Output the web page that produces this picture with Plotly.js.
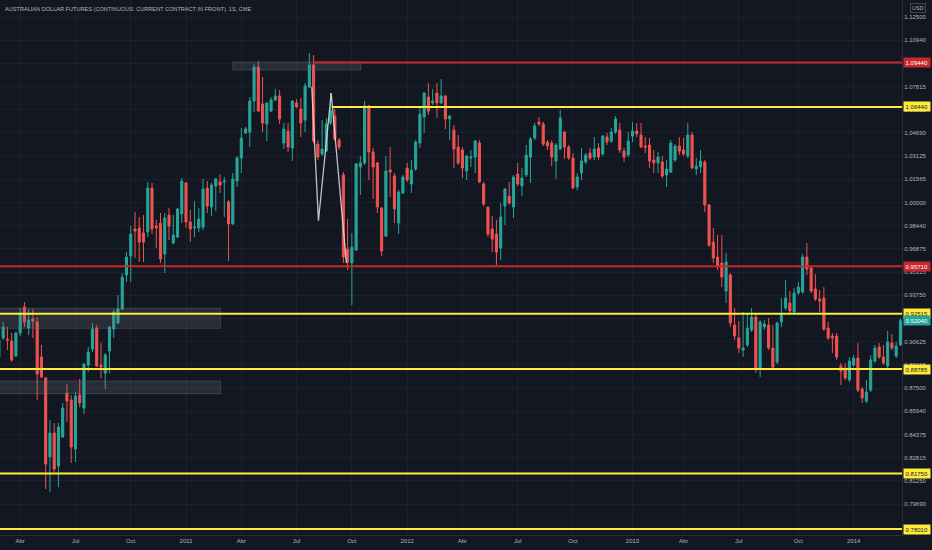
<!DOCTYPE html>
<html>
<head>
<meta charset="utf-8">
<script src="https://cdn.plot.ly/plotly-3.0.1.min.js"></script>
<style>
  html, body { margin:0; padding:0; background:#131722; }
  #chart { width:932px; height:550px; }
</style>
</head>
<body>
<div id="chart"></div>
<script>
// AUD futures, weekly bars (1S), Mar 2010 -> Mar 2014

const firstWeek = '2010-03-01';   // Monday of the first bar
const open = [
  0.8960,0.9088,0.9081,0.9068,0.8967,0.9121,0.9297,0.9155,0.9216,0.9196,
  0.8960,0.8818,0.8286,0.8448,0.8225,0.8421,0.8717,0.8670,0.8340,0.8704,
  0.8616,0.8906,0.9014,0.9155,0.8906,0.8852,0.9000,0.9148,0.9189,0.9283,
  0.9512,0.9640,0.9822,0.9829,0.9795,0.9802,1.0098,0.9842,0.9862,0.9654,
  0.9916,0.9727,0.9768,0.9923,1.0132,0.9869,0.9829,0.9829,0.9835,1.0098,
  0.9970,1.0111,1.0139,1.0139,1.0004,0.9856,1.0145,1.0300,1.0469,1.0475,
  1.0684,1.0913,1.0664,1.0529,1.0617,1.0691,1.0718,1.0401,1.0482,1.0368,
  1.0671,1.0630,1.0556,1.0778,1.0927,1.0394,1.0327,1.0347,1.0536,1.0583,
  1.0421,1.0186,0.9687,0.9593,0.9680,1.0240,1.0267,1.0651,1.0341,1.0267,
  0.9963,0.9775,1.0219,1.0179,0.9862,1.0064,1.0233,1.0125,1.0226,1.0401,
  1.0576,1.0711,1.0671,1.0738,1.0671,1.0718,1.0563,1.0489,1.0374,1.0354,
  1.0213,1.0300,1.0307,1.0401,1.0125,0.9970,0.9822,0.9788,0.9694,0.9977,
  1.0044,0.9970,1.0192,1.0111,1.0186,1.0307,1.0435,1.0543,1.0529,1.0408,
  1.0401,1.0280,1.0361,1.0475,1.0374,1.0300,1.0105,1.0199,1.0273,1.0334,
  1.0307,1.0368,1.0327,1.0442,1.0415,1.0475,1.0489,1.0347,1.0320,1.0448,
  1.0482,1.0455,1.0381,1.0388,1.0287,1.0267,1.0273,1.0186,1.0206,1.0287,
  1.0381,1.0354,1.0314,1.0455,1.0226,1.0240,1.0273,0.9984,0.9734,0.9633,
  0.9593,0.9404,0.9512,0.9175,0.9088,0.9007,0.9041,0.9142,0.9229,0.8886,
  0.9162,0.9175,0.9020,0.8926,0.9196,0.9290,0.9323,0.9263,0.9391,0.9398,
  0.9633,0.9559,0.9418,0.9350,0.9357,0.9155,0.9101,0.9101,0.8899,0.8886,
  0.8805,0.8906,0.8953,0.8744,0.8663,0.8737,0.8933,0.9027,0.8960,0.8899,
  0.9054,0.8967,0.9041
];
const high = [
  0.9088,0.9196,0.9162,0.9122,0.9128,0.9290,0.9330,0.9283,0.9283,0.9229,
  0.9041,0.8825,0.8535,0.8515,0.8515,0.8650,0.8778,0.8704,0.8724,0.8812,
  0.8920,0.9027,0.9189,0.9175,0.9054,0.8987,0.9168,0.9276,0.9377,0.9525,
  0.9667,0.9842,0.9936,0.9903,0.9916,1.0139,1.0132,0.9883,0.9930,0.9930,
  0.9963,0.9916,0.9963,1.0165,1.0139,0.9950,1.0011,0.9963,1.0159,1.0145,
  1.0132,1.0165,1.0192,1.0172,1.0017,1.0199,1.0314,1.0502,1.0509,1.0711,
  1.0933,1.0954,1.0846,1.0677,1.0711,1.0765,1.0758,1.0536,1.0536,1.0691,
  1.0698,1.0704,1.0805,1.1007,1.0994,1.0421,1.0556,1.0570,1.0738,1.0630,
  1.0435,1.0206,0.9889,0.9795,1.0267,1.0314,1.0684,1.0657,1.0368,1.0273,
  0.9970,1.0314,1.0374,1.0199,1.0085,1.0186,1.0267,1.0287,1.0421,1.0644,
  1.0745,1.0805,1.0765,1.0805,1.0832,1.0725,1.0590,1.0522,1.0455,1.0374,
  1.0320,1.0354,1.0421,1.0421,1.0139,0.9970,0.9910,0.9883,0.9997,1.0098,
  1.0139,1.0186,1.0267,1.0233,1.0388,1.0442,1.0536,1.0576,1.0543,1.0421,
  1.0421,1.0401,1.0624,1.0482,1.0388,1.0334,1.0199,1.0368,1.0334,1.0368,
  1.0442,1.0401,1.0455,1.0469,1.0502,1.0583,1.0536,1.0368,1.0475,1.0543,
  1.0536,1.0536,1.0442,1.0435,1.0354,1.0341,1.0314,1.0287,1.0421,1.0394,
  1.0442,1.0435,1.0536,1.0475,1.0300,1.0354,1.0287,0.9990,0.9829,0.9781,
  0.9781,0.9660,0.9525,0.9290,0.9202,0.9263,0.9256,0.9290,0.9256,0.9209,
  0.9209,0.9222,0.9175,0.9196,0.9357,0.9478,0.9404,0.9424,0.9465,0.9654,
  0.9727,0.9566,0.9519,0.9411,0.9431,0.9196,0.9121,0.9121,0.8919,0.8919,
  0.8960,0.8973,0.9054,0.8758,0.8805,0.8973,0.9041,0.9054,0.9041,0.9135,
  0.9115,0.9061,0.9222
];
const low = [
  0.8940,0.9074,0.9007,0.8926,0.8960,0.9101,0.9162,0.9108,0.9088,0.8670,
  0.8818,0.8071,0.8050,0.8185,0.8084,0.8414,0.8522,0.8246,0.8252,0.8623,
  0.8576,0.8859,0.8993,0.8892,0.8818,0.8744,0.8852,0.9088,0.9182,0.9276,
  0.9465,0.9465,0.9627,0.9600,0.9600,0.9768,0.9788,0.9694,0.9593,0.9525,
  0.9748,0.9721,0.9761,0.9862,0.9829,0.9734,0.9768,0.9802,0.9815,0.9930,
  0.9910,0.9943,1.0064,0.9903,0.9606,0.9849,1.0105,1.0199,1.0462,1.0374,
  1.0610,1.0610,1.0475,1.0415,1.0610,1.0684,1.0529,1.0361,1.0341,1.0280,
  1.0637,1.0442,1.0475,1.0772,1.0401,1.0287,1.0314,1.0341,1.0522,1.0415,
  1.0354,0.9593,0.9546,0.9310,0.9674,1.0051,1.0253,1.0152,1.0024,0.9930,
  0.9640,0.9768,1.0037,0.9862,0.9788,1.0058,1.0139,1.0064,1.0213,1.0368,
  1.0469,1.0590,1.0657,1.0570,1.0664,1.0496,1.0421,1.0233,1.0253,1.0165,
  1.0152,1.0240,1.0199,1.0132,0.9977,0.9768,0.9667,0.9579,0.9613,0.9849,
  0.9984,0.9896,1.0111,1.0044,1.0172,1.0132,1.0421,1.0516,1.0381,1.0354,
  1.0246,1.0159,1.0354,1.0294,1.0287,1.0091,1.0085,1.0152,1.0260,1.0287,
  1.0287,1.0287,1.0314,1.0388,1.0401,1.0462,1.0334,1.0273,1.0307,1.0408,
  1.0442,1.0368,1.0334,1.0233,1.0199,1.0199,1.0165,1.0105,1.0199,1.0273,
  1.0320,1.0314,1.0300,1.0226,1.0186,1.0199,0.9936,0.9700,0.9593,0.9546,
  0.9431,0.9323,0.9162,0.9074,0.8987,0.8960,0.9027,0.9128,0.8852,0.8825,
  0.9142,0.9007,0.8872,0.8913,0.9162,0.9276,0.9256,0.9249,0.9377,0.9384,
  0.9512,0.9391,0.9337,0.9263,0.9135,0.9074,0.8987,0.8940,0.8771,0.8805,
  0.8791,0.8892,0.8724,0.8650,0.8650,0.8724,0.8919,0.8946,0.8906,0.8886,
  0.9007,0.8953,0.9034
];
const close = [
  0.9074,0.9162,0.9074,0.8940,0.9121,0.9256,0.9196,0.9209,0.9202,0.8845,
  0.8825,0.8239,0.8448,0.8205,0.8488,0.8616,0.8663,0.8354,0.8697,0.8650,
  0.8912,0.8993,0.9148,0.8899,0.8892,0.8973,0.9162,0.9263,0.9283,0.9498,
  0.9633,0.9788,0.9808,0.9734,0.9734,1.0098,0.9822,0.9829,0.9620,0.9896,
  0.9842,0.9781,0.9957,1.0145,0.9869,0.9822,0.9835,0.9889,1.0091,0.9977,
  1.0118,1.0159,1.0118,1.0145,0.9856,1.0159,1.0300,1.0435,1.0496,1.0684,
  1.0913,1.0617,1.0536,1.0671,1.0691,1.0718,1.0563,1.0496,1.0374,1.0684,
  1.0644,1.0536,1.0785,1.0927,1.0415,1.0307,1.0361,1.0529,1.0617,1.0428,
  1.0374,0.9633,0.9600,0.9700,1.0260,1.0267,1.0651,1.0341,1.0240,0.9970,
  0.9674,1.0213,1.0206,0.9957,1.0071,1.0172,1.0152,1.0219,1.0408,1.0596,
  1.0738,1.0617,1.0684,1.0671,1.0718,1.0563,1.0583,1.0361,1.0267,1.0233,
  1.0314,1.0307,1.0415,1.0139,0.9990,0.9788,0.9755,0.9667,0.9903,1.0091,
  0.9997,1.0172,1.0125,1.0165,1.0320,1.0428,1.0516,1.0529,1.0394,1.0381,
  1.0307,1.0388,1.0570,1.0374,1.0300,1.0098,1.0172,1.0280,1.0320,1.0300,
  1.0361,1.0307,1.0448,1.0408,1.0475,1.0563,1.0354,1.0307,1.0415,1.0482,
  1.0462,1.0374,1.0374,1.0280,1.0267,1.0307,1.0179,1.0226,1.0401,1.0381,
  1.0347,1.0327,1.0455,1.0233,1.0246,1.0280,0.9984,0.9714,0.9627,0.9566,
  0.9499,0.9600,0.9189,0.9101,0.9020,0.9020,0.9155,0.9229,0.8886,0.9196,
  0.9182,0.9020,0.8892,0.9189,0.9249,0.9357,0.9270,0.9391,0.9431,0.9633,
  0.9553,0.9404,0.9350,0.9337,0.9148,0.9088,0.9088,0.8960,0.8865,0.8818,
  0.8933,0.8953,0.8737,0.8684,0.8724,0.8940,0.9020,0.8960,0.8919,0.9061,
  0.9020,0.9034,0.9204
];

// axis ticks
const timeTicks = ['2010-04-05','2010-07-05','2010-10-04','2011-01-03','2011-04-04','2011-07-04',
  '2011-10-03','2012-01-02','2012-04-02','2012-07-02','2012-10-01','2013-01-07','2013-04-01',
  '2013-07-01','2013-10-07','2014-01-06'];
const timeLabels = ['Abr','Jul','Oct','2011','Abr','Jul','Oct','2012','Abr','Jul','Oct','2013',
  'Abr','Jul','Oct','2014'];
// labels hidden behind the price tags are left empty (grid line stays)
const priceTicks = [0.796875,0.8125,0.828125,0.84375,0.859375,0.875,0.890625,0.90625,0.921875,
  0.9375,0.953125,0.96875,0.984375,1.0,1.015625,1.03125,1.046875,1.0625,1.078125,1.09375,
  1.109375,1.125];
const priceLabels = ['0.79690','0.81250','0.82815','0.84375','0.85940','0.87500','0.89065',
  '0.90625','','0.93750','0.95315','0.96875','0.98440','1.00000','1.01565','1.03125',
  '1.04690','1.06250','1.07815','','1.10940','1.12500'];

// drawings: horizontal levels
const levelPrices = [1.0944, 1.0644, 0.9571, 0.92515, 0.88785, 0.8175, 0.7801];
const levelText   = ['1.09440','1.06440','0.95710','0.92515','0.88785','0.81750','0.78010'];
const levelColor  = ['red','yellow','red','yellow','yellow','yellow','yellow'];
const levelStart  = ['2011-07-31','2011-08-31', null, null, null, null, null];

// drawings: zones
const zoneStart = ['2011-03-21', null, null];
const zoneEnd   = ['2011-10-18', '2011-03-01', '2011-03-01'];
const zoneTop   = [1.0947, 0.9288, 0.8798];
const zoneBot   = [1.0893, 0.9153, 0.8713];

// drawings: zigzag
const zigDates  = ['2011-07-29','2011-08-09','2011-08-30','2011-09-24'];
const zigPrices = [1.0780, 0.9878, 1.0738, 0.9593];

const lastPrice = 0.9204;

const C = {
  bg:'#131722', grid:'#1c202b', axis:'#2a2e39', text:'#b2b5be',
  up:'#26a69a', down:'#ef5350', red:'#c9272f', yellow:'#ffeb3b'
};
const FONT = 'Liberation Sans, Arial, sans-serif';

const dates = open.map((_, i) => {
  const d = new Date(firstWeek + 'T00:00:00Z');
  d.setUTCDate(d.getUTCDate() + 7 * i);
  return d.toISOString().slice(0, 10);
});

const traces = [
  {
    type:'candlestick', x:dates, open, high, low, close,
    increasing:{line:{color:C.up, width:1}, fillcolor:C.up},
    decreasing:{line:{color:C.down, width:1}, fillcolor:C.down},
    whiskerwidth:0, hoverinfo:'skip'
  },
  {
    type:'scatter', mode:'lines', x:zigDates, y:zigPrices,
    line:{color:'rgba(225,225,225,0.85)', width:1.3}, hoverinfo:'skip'
  }
];

const shapes = [];
zoneTop.forEach((t, i) => {
  shapes.push({
    type:'rect', layer:'above',
    xref:'x', x0: zoneStart[i] || '2010-02-20', x1: zoneEnd[i],
    yref:'y', y0:zoneBot[i], y1:t,
    fillcolor:'rgba(120,123,134,0.22)', line:{color:'rgba(120,123,134,0.35)', width:1}
  });
});
levelPrices.forEach((p, i) => {
  const s = levelStart[i];
  shapes.push({
    type:'line', layer:'above',
    xref: s ? 'x' : 'paper', x0: s ? s : 0, x1: s ? '2014-06-01' : 1,
    yref:'y', y0:p, y1:p,
    line:{color: levelColor[i] === 'red' ? C.red : C.yellow, width:2}
  });
});

const annotations = [
  {
    xref:'paper', yref:'paper', x:0, y:1, xanchor:'left', yanchor:'top', xshift:3, yshift:-4,
    text:'AUSTRALIAN DOLLAR FUTURES (CONTINUOUS: CURRENT CONTRACT IN FRONT), 1S, CME',
    showarrow:false, font:{family:FONT, size:5.6, color:C.text}
  },
  {
    xref:'paper', yref:'paper', x:1, y:1, xanchor:'left', yanchor:'top', xshift:8, yshift:-3,
    text:'USD', showarrow:false, bordercolor:'#434651', borderwidth:1, borderpad:1,
    font:{family:FONT, size:5.5, color:C.text}
  }
];
const tagPrices = levelPrices.concat([lastPrice]);
const tagText   = levelText.concat(['0.92040']);
const tagKind   = levelColor.concat(['last']);
tagPrices.forEach((p, i) => {
  const k = tagKind[i];
  annotations.push({
    xref:'paper', yref:'y', x:1, y:p, xanchor:'left', yanchor:'middle', xshift:1,
    text:tagText[i], showarrow:false, borderpad:1.6,
    bgcolor: k === 'red' ? C.red : (k === 'yellow' ? C.yellow : C.up),
    font:{family:FONT, size:6, color: k === 'yellow' ? '#131722' : '#ffffff'}
  });
});

const layout = {
  width:932, height:550,
  margin:{l:0, r:30, t:0, b:15},
  paper_bgcolor:C.bg, plot_bgcolor:C.bg,
  showlegend:false,
  xaxis:{
    type:'date', range:['2010-03-02 19:00','2014-03-26 14:00'],
    tickvals:timeTicks, ticktext:timeLabels, ticks:'',
    showgrid:true, gridcolor:C.grid, gridwidth:1, zeroline:false,
    showline:true, linecolor:C.axis, linewidth:1,
    tickfont:{family:FONT, size:6, color:C.text},
    rangeslider:{visible:false}, fixedrange:true
  },
  yaxis:{
    side:'right', range:[0.7761, 1.13645],
    tickvals:priceTicks, ticktext:priceLabels, ticks:'',
    showgrid:true, gridcolor:C.grid, gridwidth:1, zeroline:false,
    showline:true, linecolor:C.axis, linewidth:1,
    tickfont:{family:FONT, size:6, color:C.text},
    fixedrange:true
  },
  shapes, annotations
};

Plotly.newPlot('chart', traces, layout, {displayModeBar:false, staticPlot:true});
</script>
</body>
</html>
